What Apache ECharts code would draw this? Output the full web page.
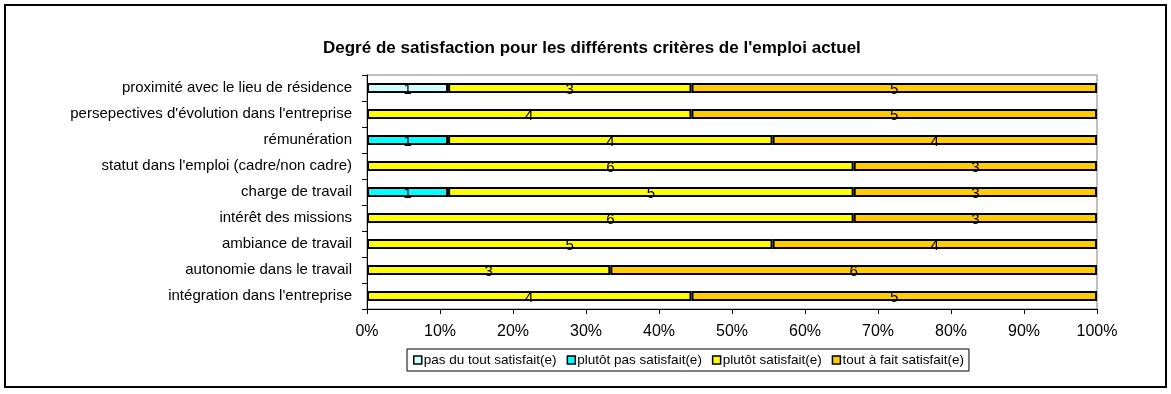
<!DOCTYPE html>
<html>
<head>
<meta charset="utf-8">
<script src="https://cdn.jsdelivr.net/npm/echarts@6/dist/echarts.min.js"></script>
<style>
  html, body { margin: 0; padding: 0; background: #fff; }
  #chart { width: 1171px; height: 394px; }
</style>
</head>
<body>
<div id="chart"></div>
<script>
// Survey criteria, listed top to bottom
const categories = [
  "proximité avec le lieu de résidence",
  "persepectives d'évolution dans l'entreprise",
  "rémunération",
  "statut dans l'emploi (cadre/non cadre)",
  "charge de travail",
  "intérêt des missions",
  "ambiance de travail",
  "autonomie dans le travail",
  "intégration dans l'entreprise"
];

// Number of answers per satisfaction level (same order as categories)
const pasDuTout   = [1, 0, 0, 0, 0, 0, 0, 0, 0];
const plutotPas   = [0, 0, 1, 0, 1, 0, 0, 0, 0];
const plutot      = [3, 4, 4, 6, 5, 6, 5, 3, 4];
const toutAFait   = [5, 5, 4, 3, 3, 3, 4, 6, 5];

const seriesNames = [
  "pas du tout satisfait(e)",
  "plutôt pas satisfait(e)",
  "plutôt satisfait(e)",
  "tout à fait satisfait(e)"
];
const seriesColors = ["#CCFFFF", "#00FFFF", "#FFFF00", "#FFCC00"];
const xTicks = [0, 10, 20, 30, 40, 50, 60, 70, 80, 90, 100];

const FONT = "'Liberation Sans', Arial, sans-serif";
const counts = [pasDuTout, plutotPas, plutot, toutAFait];
const totals = categories.map((_, i) => counts.reduce((s, arr) => s + arr[i], 0));

// Each segment is drawn as its share of the row total, labelled with the raw count
const series = counts.map((arr, k) => ({
  name: seriesNames[k],
  type: "bar",
  stack: "total",
  barWidth: 10,
  itemStyle: { color: seriesColors[k], borderColor: "#000", borderWidth: 2 },
  label: {
    show: true,
    position: "inside",
    color: "#000",
    fontFamily: FONT,
    fontSize: 15,
    offset: [0, 2],
    formatter: p => (p.data.count ? String(p.data.count) : "")
  },
  data: arr.map((c, i) => ({ value: c ? c / totals[i] * 100 : null, count: c }))
}));

const chart = echarts.init(document.getElementById("chart"), null, { renderer: "canvas" });
chart.setOption({
  animation: false,
  backgroundColor: "#fff",
  textStyle: { fontFamily: FONT },
  title: {
    text: "Degré de satisfaction pour les différents critères de l'emploi actuel",
    left: 318,
    top: 35,
    textStyle: { fontFamily: FONT, fontSize: 17, fontWeight: "bold", color: "#000" }
  },
  grid: {
    left: 367, right: 74, top: 75, bottom: 85,
    show: true, borderColor: "#808080", borderWidth: 1, backgroundColor: "transparent"
  },
  legend: {
    left: 407,
    top: 349,
    orient: "horizontal",
    icon: "rect",
    itemWidth: 8,
    itemHeight: 8,
    itemGap: 10,
    padding: [4, 5, 4, 6],
    borderColor: "#000",
    borderWidth: 1,
    itemStyle: { borderColor: "#000", borderWidth: 1.5 },
    textStyle: { fontFamily: FONT, fontSize: 13.5, color: "#000", padding: [0, 0, 0, -3] },
    data: seriesNames
  },
  xAxis: {
    type: "value",
    min: xTicks[0],
    max: xTicks[xTicks.length - 1],
    interval: 10,
    axisLine: { show: true, lineStyle: { color: "#000", width: 1 } },
    axisTick: { show: true, length: 5, lineStyle: { color: "#000" } },
    splitLine: { show: false },
    axisLabel: { fontFamily: FONT, fontSize: 16, color: "#000", margin: 15, formatter: "{value}%" }
  },
  yAxis: {
    type: "category",
    inverse: true,
    data: categories,
    axisLine: { show: true, lineStyle: { color: "#000", width: 1 } },
    axisTick: { show: true, length: 5, alignWithLabel: false, lineStyle: { color: "#000" } },
    axisLabel: { fontFamily: FONT, fontSize: 15, color: "#000", margin: 15 }
  },
  graphic: [{
    type: "rect",
    shape: { x: 5, y: 5, width: 1161, height: 382 },
    style: { fill: "none", stroke: "#000", lineWidth: 2 },
    silent: true,
    z: -1
  }],
  series: series
});
</script>
</body>
</html>
